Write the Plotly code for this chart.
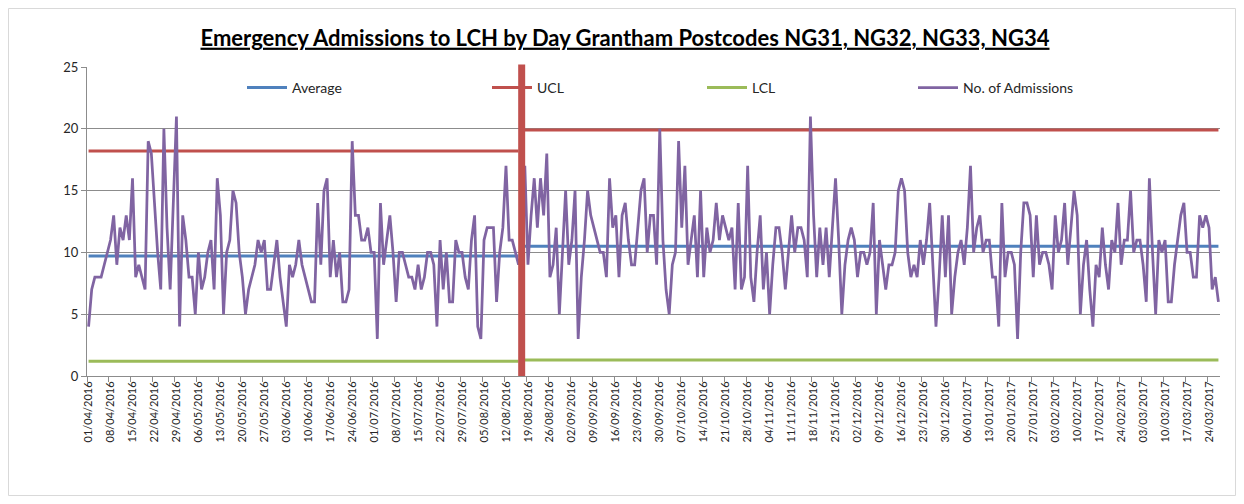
import plotly.graph_objects as go
import pandas as pd

# ---------------- data ----------------
start_date = "2016-04-01"
admissions = [
    4, 7, 8, 8, 8, 9, 10, 11, 13, 9, 12, 11, 13, 11, 16, 8, 9, 8, 7, 19,
    18, 14, 10, 7, 20, 12, 7, 14, 21, 4, 13, 11, 8, 8, 5, 10, 7, 8, 10, 11,
    7, 16, 13, 5, 10, 11, 15, 14, 10, 8, 5, 7, 8, 9, 11, 10, 11, 7, 7, 9,
    11, 8, 6, 4, 9, 8, 9, 11, 9, 8, 7, 6, 6, 14, 9, 15, 16, 8, 11, 8,
    10, 6, 6, 7, 19, 13, 13, 11, 11, 12, 10, 10, 3, 14, 9, 11, 13, 10, 6, 10,
    10, 9, 8, 8, 7, 9, 7, 8, 10, 10, 9, 4, 11, 7, 10, 6, 6, 11, 10, 10,
    8, 7, 11, 13, 4, 3, 11, 12, 12, 12, 6, 10, 12, 17, 11, 11, 10, 9, 10, 17,
    9, 13, 16, 12, 16, 13, 18, 8, 9, 12, 5, 10, 15, 9, 11, 15, 3, 8, 11, 15,
    13, 12, 11, 10, 10, 8, 16, 12, 13, 8, 13, 14, 11, 9, 9, 12, 15, 16, 10, 13,
    13, 9, 20, 11, 7, 5, 9, 10, 19, 12, 17, 9, 11, 13, 8, 15, 8, 12, 10, 11,
    14, 11, 13, 12, 11, 12, 7, 14, 7, 8, 17, 8, 6, 10, 13, 7, 10, 5, 9, 12,
    12, 10, 7, 10, 13, 10, 12, 12, 11, 8, 21, 13, 8, 12, 9, 12, 8, 12, 16, 11,
    5, 9, 11, 12, 11, 8, 10, 10, 9, 10, 14, 5, 11, 9, 7, 9, 9, 10, 15, 16,
    15, 10, 8, 9, 8, 11, 9, 11, 14, 9, 4, 8, 13, 8, 13, 5, 8, 10, 11, 9,
    12, 17, 10, 12, 13, 10, 11, 11, 8, 8, 4, 14, 8, 10, 10, 9, 3, 10, 14, 14,
    13, 8, 13, 9, 10, 10, 9, 7, 13, 10, 11, 14, 9, 12, 15, 13, 5, 9, 11, 7,
    4, 9, 8, 12, 9, 7, 11, 10, 14, 9, 11, 11, 15, 10, 11, 11, 9, 6, 16, 10,
    5, 11, 10, 11, 6, 6, 9, 11, 13, 14, 10, 10, 8, 8, 13, 12, 13, 12, 7, 8,
    6,
]
# process-change split (day index) and control limits of each period
split_day = 138
period1 = {"average": 9.7, "ucl": 18.2, "lcl": 1.2}
period2 = {"average": 10.5, "ucl": 19.9, "lcl": 1.3}

title_text = "Emergency Admissions to LCH by Day Grantham Postcodes NG31, NG32, NG33, NG34"

# ---------------- build ----------------
n = len(admissions)
dates = pd.date_range(start_date, periods=n, freq="D")


def limit_series(key):
    vals = []
    for i in range(n):
        if i < split_day:
            vals.append(period1[key])
        elif i == split_day:
            vals.append(None)
        else:
            vals.append(period2[key])
    return vals


tick_dates = dates[::7]
tick_text = [d.strftime("%d/%m/%Y") for d in tick_dates]

FONT = "Lato, 'Open Sans', sans-serif"
C_AVG = "#4F81BD"
C_UCL = "#C0504D"
C_LCL = "#9BBB59"
C_ADM = "#8064A2"
GRID = "#8C8C8C"

fig = go.Figure()
fig.add_trace(go.Scatter(x=dates, y=limit_series("average"), mode="lines", name="Average",
                         line=dict(color=C_AVG, width=3), legend="legend", connectgaps=False))
fig.add_trace(go.Scatter(x=dates, y=limit_series("ucl"), mode="lines", name="UCL",
                         line=dict(color=C_UCL, width=3), legend="legend2", connectgaps=False))
fig.add_trace(go.Scatter(x=dates, y=limit_series("lcl"), mode="lines", name="LCL",
                         line=dict(color=C_LCL, width=3), legend="legend3", connectgaps=False))
fig.add_trace(go.Scatter(x=dates, y=admissions, mode="lines", name="No. of Admissions",
                         line=dict(color=C_ADM, width=2.75), legend="legend4"))

# the page body has an 8px margin, so the figure is sized to fit the 1244x504 window
W, H = 1228, 488
ML, MR, MT, MB = 79, 16, 59, 120
PW, PH = W - ML - MR, H - MT - MB


def px_x(px):
    return (px - ML) / PW


def px_y(py):
    return (H - MB - py) / PH


legend_common = dict(orientation="h", bgcolor="rgba(0,0,0,0)", borderwidth=0,
                     font=dict(family=FONT, size=14, color="#262626"),
                     xref="paper", yref="paper", xanchor="left", yanchor="middle",
                     itemwidth=40)
layout_legends = {}
for key, px in [("legend", 234), ("legend2", 479), ("legend3", 694), ("legend4", 905)]:
    layout_legends[key] = dict(legend_common, x=px_x(px), y=px_y(80))

split_x = dates[split_day]

fig.update_layout(
    width=W, height=H,
    margin=dict(l=ML, r=MR, t=MT, b=MB, autoexpand=False),
    paper_bgcolor="white", plot_bgcolor="white",
    title=dict(text="<b><u>" + title_text + "</u></b>", x=617 / W, xanchor="center",
               y=1 - 30 / H, yanchor="middle",
               font=dict(family=FONT, size=22, color="black")),
    showlegend=True,
    **layout_legends,
    xaxis=dict(
        type="date",
        range=[dates[0] - pd.Timedelta(hours=12), dates[-1] + pd.Timedelta(hours=12)],
        tickmode="array", tickvals=tick_dates, ticktext=tick_text,
        tickangle=-90, ticks="",
        tickfont=dict(family=FONT, size=11, color="#262626"),
        showgrid=False, showline=True, linecolor=GRID, linewidth=1,
        zeroline=False, automargin=False,
        minor=dict(ticks="outside", ticklen=5, tickcolor=GRID, showgrid=False,
                   tick0=dates[0] - pd.Timedelta(hours=12), dtick=7 * 86400000),
    ),
    yaxis=dict(
        range=[0, 25], tick0=0, dtick=5,
        showgrid=True, gridcolor=GRID, gridwidth=1,
        showline=True, linecolor=GRID, linewidth=1,
        ticks="outside", ticklen=5, tickcolor=GRID,
        tickfont=dict(family=FONT, size=13, color="#262626"),
        zeroline=False, automargin=False,
    ),
    shapes=[
        dict(type="line", xref="x", yref="paper", x0=split_x, x1=split_x, y0=0, y1=1.008,
             line=dict(color=C_UCL, width=7), layer="above"),
        dict(type="rect", xref="paper", yref="paper",
             x0=px_x(0.5), x1=px_x(W - 0.5), y0=px_y(H - 0.5), y1=px_y(0.5),
             line=dict(color="#D9D9D9", width=1), layer="below"),
    ],
)

fig.write_html("out.html")
